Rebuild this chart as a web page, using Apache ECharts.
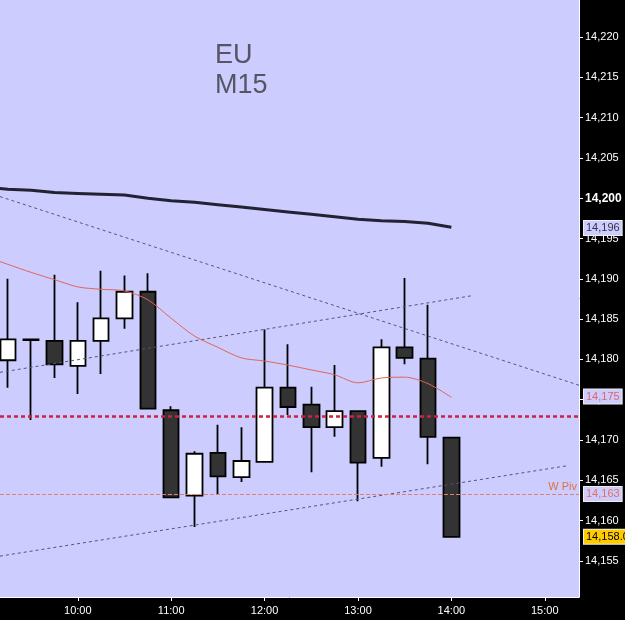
<!DOCTYPE html>
<html>
<head>
<meta charset="utf-8">
<script src="https://cdn.jsdelivr.net/npm/echarts@6.0.0/dist/echarts.min.js"></script>
<style>
  html, body { margin: 0; padding: 0; background: #000; }
  #chart { width: 625px; height: 620px; }
</style>
</head>
<body>
<div id="chart"></div>
<script>
// M15 candles
const times = ['09:15','09:30','09:45','10:00','10:15','10:30','10:45','11:00','11:15','11:30',
  '11:45','12:00','12:15','12:30','12:45','13:00','13:15','13:30','13:45','14:00'];
const opens = [14.1799,14.1825,14.1823,14.1792,14.1823,14.1851,14.1884,14.1737,14.1631,14.1684,
  14.1654,14.1673,14.1765,14.1744,14.1716,14.1736,14.1678,14.1815,14.1801,14.1703];
const closes = [14.1825,14.1824,14.1794,14.1823,14.1851,14.1884,14.1739,14.1629,14.1683,14.1655,
  14.1674,14.1765,14.1741,14.1716,14.1736,14.1672,14.1815,14.1802,14.1704,14.1580];
const highs = [14.1900,14.1825,14.1905,14.1871,14.1910,14.1904,14.1907,14.1742,14.1686,14.1719,
  14.1716,14.1837,14.1819,14.1766,14.1793,14.1737,14.1825,14.1901,14.1868,14.1703];
const lows = [14.1765,14.1725,14.1777,14.1757,14.1782,14.1838,14.1739,14.1629,14.1592,14.1633,
  14.1648,14.1673,14.1731,14.1660,14.1704,14.1624,14.1667,14.1794,14.1670,14.1580];

// moving averages
const maTimes = ['09:00'].concat(times);
const maSlow = [14.2014,14.2011,14.2010,14.2007,14.2006,14.2005,14.2004,14.2000,14.1997,14.1995,
  14.1992,14.1989,14.1986,14.1983,14.1980,14.1977,14.1974,14.1972,14.1971,14.1969,14.1964];
const maFast = [14.1928,14.1918,14.1908,14.1899,14.1890,14.1887,14.1885,14.1874,14.1851,14.1829,
  14.1815,14.1802,14.1798,14.1793,14.1787,14.1781,14.1771,14.1777,14.1778,14.1770,14.1753];

// trend lines [time, price]
const trendA = [['09:10',14.2002],['15:22',14.1768]];
const trendB = [['09:10',14.1784],['14:13',14.1879]];
const trendC = [['09:10',14.1556],['15:14',14.1668]];

// levels
const redLevel = 14.1730;
const wPivot = 14.1633;
const priceTags = [
  { text: '14,196', value: 14.1963, bg: '#ccccff', color: '#333344' },
  { text: '14,175', value: 14.1754, bg: '#ccccff', color: '#dd6666' },
  { text: '14,163', value: 14.1633, bg: '#ccccff', color: '#e07060' },
  { text: '14,158.0', value: 14.1580, bg: '#ffcc00', color: '#000000' }
];

// axes
const xTicks = ['10:00','11:00','12:00','13:00','14:00','15:00'];
const yTicks = [14.155,14.160,14.165,14.170,14.175,14.180,14.185,14.190,14.195,14.200,
  14.205,14.210,14.215,14.220];

function toMin(t) {
  let p = t.split(':');
  return parseInt(p[0]) * 60 + parseInt(p[1]);
}
function fmtMin(m) {
  let h = Math.floor(m / 60), mm = m % 60;
  return (h < 10 ? '0' + h : h) + ':' + (mm < 10 ? '0' + mm : mm);
}

let candleData = times.map((t, i) => [toMin(t), opens[i], closes[i], lows[i], highs[i]]);
let tagLines = priceTags.map(tag => ({
  yAxis: tag.value,
  lineStyle: { color: 'rgba(0,0,0,0)', width: 0 },
  label: {
    show: true,
    position: 'end',
    distance: 5,
    formatter: tag.text,
    color: tag.color,
    backgroundColor: tag.bg,
    borderColor: '#eeeeee',
    borderWidth: 1,
    padding: [2, 2, 1, 2],
    fontSize: 11,
    fontFamily: 'Liberation Sans, Arial'
  }
}));

let myChart = echarts.init(document.getElementById('chart'));
let option = {
  animation: false,
  backgroundColor: '#000000',
  textStyle: { fontFamily: 'Liberation Sans, Arial' },
  title: {
    text: 'EU\nM15',
    left: 210,
    top: 36,
    textStyle: { fontSize: 27, fontWeight: 'normal', color: '#555566', lineHeight: 30 }
  },
  grid: {
    left: 0, right: 46, top: 0, bottom: 23,
    show: true,
    backgroundColor: '#ccccff',
    borderWidth: 0,
    outerBoundsMode: 'none'
  },
  xAxis: {
    type: 'value',
    min: 550,
    max: 922,
    axisLine: { show: true, lineStyle: { color: '#ffffff', width: 1 } },
    axisTick: { show: true, length: 4, lineStyle: { color: '#ffffff' }, customValues: xTicks.map(toMin) },
    axisLabel: {
      color: '#ffffff', fontSize: 11, margin: 8,
      customValues: xTicks.map(toMin),
      formatter: v => fmtMin(v)
    },
    splitLine: { show: false }
  },
  yAxis: {
    type: 'value',
    position: 'right',
    min: 14.15053,
    max: 14.22459,
    axisLine: { show: true, lineStyle: { color: '#ffffff', width: 1 } },
    axisTick: { show: true, length: 4, lineStyle: { color: '#ffffff' }, customValues: yTicks },
    axisLabel: {
      color: '#ffffff', fontSize: 11, margin: 6,
      customValues: yTicks,
      formatter: v => Math.abs(v - 14.2) < 1e-6 ? '{b|14,200}' : v.toFixed(3).replace('.', ','),
      rich: { b: { color: '#ffffff', fontSize: 12, fontWeight: 'bold' } }
    },
    splitLine: { show: false }
  },
  series: [
    {
      name: 'trendA', type: 'line', symbol: 'none', silent: true,
      data: trendA.map(d => [toMin(d[0]), d[1]]),
      lineStyle: { color: '#555577', width: 1, type: [3, 3] }
    },
    {
      name: 'trendB', type: 'line', symbol: 'none', silent: true,
      data: trendB.map(d => [toMin(d[0]), d[1]]),
      lineStyle: { color: '#555577', width: 1, type: [3, 3] }
    },
    {
      name: 'trendC', type: 'line', symbol: 'none', silent: true,
      data: trendC.map(d => [toMin(d[0]), d[1]]),
      lineStyle: { color: '#555577', width: 1, type: [3, 3] }
    },
    {
      name: 'maSlow', type: 'line', symbol: 'none', silent: true,
      data: maTimes.map((t, i) => [toMin(t), maSlow[i]]),
      lineStyle: { color: '#222233', width: 3 }
    },
    {
      name: 'maFast', type: 'line', symbol: 'none', silent: true, smooth: 0.3,
      data: maTimes.map((t, i) => [toMin(t), maFast[i]]),
      lineStyle: { color: '#e06655', width: 1 }
    },
    {
      name: 'EU', type: 'candlestick',
      data: candleData,
      barWidth: 16,
      itemStyle: {
        color: '#ffffff',
        color0: '#333333',
        borderColor: '#000000',
        borderColor0: '#000000',
        borderWidth: 1.8
      },
      markLine: {
        silent: true,
        symbol: 'none',
        precision: 4,
        data: [
          {
            yAxis: redLevel,
            lineStyle: { color: '#cc2244', width: 2.5, type: [4, 3] },
            label: { show: false }
          },
          {
            yAxis: wPivot,
            lineStyle: { color: '#e08070', width: 1, type: [4, 2] },
            label: {
              show: true, position: 'insideEndTop', distance: 2,
              formatter: 'W Piv', color: '#e07040', fontSize: 11
            }
          }
        ].concat(tagLines)
      }
    }
  ]
};
myChart.setOption(option);
</script>
</body>
</html>
